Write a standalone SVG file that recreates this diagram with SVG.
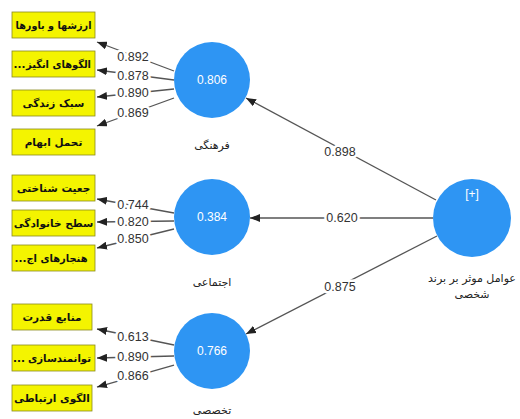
<svg xmlns="http://www.w3.org/2000/svg" width="520" height="419" viewBox="0 0 520 419">
<style>
.box{fill:#F4F400;stroke:#8a8a20;stroke-width:0.8}
.bt{font-family:"DejaVu Sans","Noto Sans",sans-serif;font-weight:bold;font-size:10.5px;fill:#111;text-anchor:middle}
.lv{fill:#2E95F3}
.ct{font-family:"Liberation Sans","Open Sans",sans-serif;font-size:12px;fill:#fff;text-anchor:middle}
.lb{font-family:"DejaVu Sans","Noto Sans",sans-serif;font-size:11px;fill:#222;text-anchor:middle}
.ln{stroke:#555;stroke-width:1.3;fill:none;marker-end:url(#ah)}
.num{font-family:"Liberation Sans","Open Sans",sans-serif;font-size:12.5px;fill:#333;text-anchor:middle;paint-order:stroke;stroke:#fff;stroke-width:5px;stroke-linejoin:round}
</style>
<defs>
<marker id="ah" markerUnits="userSpaceOnUse" markerWidth="10" markerHeight="8" refX="10" refY="4" orient="auto">
<path d="M0,0 L10,4 L0,8 z" fill="#222"/>
</marker>
</defs>
<rect width="520" height="419" fill="#fff"/>
<g id="connectors">
<line class="ln" x1="174" y1="71" x2="97" y2="42"/>
<line class="ln" x1="174" y1="80" x2="97" y2="70"/>
<line class="ln" x1="174" y1="89" x2="97" y2="97"/>
<line class="ln" x1="174" y1="98" x2="97" y2="126"/>
<line class="ln" x1="174" y1="213" x2="97" y2="199"/>
<line class="ln" x1="174" y1="221" x2="97" y2="222"/>
<line class="ln" x1="174" y1="229" x2="97" y2="248"/>
<line class="ln" x1="174" y1="345" x2="97" y2="329"/>
<line class="ln" x1="174" y1="356" x2="97" y2="358"/>
<line class="ln" x1="174" y1="365" x2="97" y2="387"/>
<line class="ln" x1="436" y1="200" x2="246" y2="98"/>
<line class="ln" x1="433" y1="218" x2="250" y2="218"/>
<line class="ln" x1="437" y1="236" x2="246" y2="334"/>
<text class="num" x="133" y="61">0.892</text>
<text class="num" x="133" y="80">0.878</text>
<text class="num" x="133" y="97">0.890</text>
<text class="num" x="133" y="117">0.869</text>
<text class="num" x="133" y="209">0.744</text>
<text class="num" x="133" y="226">0.820</text>
<text class="num" x="133" y="243">0.850</text>
<text class="num" x="133" y="341">0.613</text>
<text class="num" x="133" y="361">0.890</text>
<text class="num" x="133" y="380">0.866</text>
<text class="num" x="340" y="156">0.898</text>
<text class="num" x="342" y="222">0.620</text>
<text class="num" x="340" y="291">0.875</text>
</g>
<g id="ind1"><rect class="box" x="12" y="12" width="83" height="26"/><text class="bt" x="53.5" y="29" textLength="76" lengthAdjust="spacingAndGlyphs">ارزشها و باورها</text></g>
<g id="ind2"><rect class="box" x="12" y="51" width="83" height="26"/><text class="bt" x="19.5" y="68">...</text><text class="bt" x="58.5" y="68" textLength="65" lengthAdjust="spacingAndGlyphs">الگوهای انگیز</text></g>
<g id="ind3"><rect class="box" x="12" y="90" width="83" height="26"/><text class="bt" x="53.5" y="107">سبک زندگی</text></g>
<g id="ind4"><rect class="box" x="12" y="129" width="83" height="26"/><text class="bt" x="53.5" y="146">تحمل ابهام</text></g>
<g id="ind5"><rect class="box" x="12" y="175" width="83" height="26"/><text class="bt" x="53.5" y="192">جعیت شناختی</text></g>
<g id="ind6"><rect class="box" x="12" y="210" width="83" height="26"/><text class="bt" x="53.5" y="227">سطح خانوادگی</text></g>
<g id="ind7"><rect class="box" x="12" y="245" width="83" height="26"/><text class="bt" x="20.5" y="262">...</text><text class="bt" x="57" y="262" textLength="61" lengthAdjust="spacingAndGlyphs">هنجارهای اج</text></g>
<g id="ind8"><rect class="box" x="12" y="304" width="80" height="26"/><text class="bt" x="52" y="321">منابع قدرت</text></g>
<g id="ind9"><rect class="box" x="12" y="345" width="83" height="26"/><text class="bt" x="19" y="362">...</text><text class="bt" x="59.5" y="362" textLength="63" lengthAdjust="spacingAndGlyphs">توانمندسازی</text></g>
<g id="ind10"><rect class="box" x="12" y="385" width="80" height="26"/><text class="bt" x="52" y="402">الگوی ارتباطی</text></g>
<g id="farhangi"><circle class="lv" cx="212" cy="80" r="38"/><text class="ct" x="212" y="84">0.806</text><text class="lb" x="212" y="149">فرهنگی</text></g>
<g id="ejtemaei"><circle class="lv" cx="212" cy="217" r="38"/><text class="ct" x="212" y="221">0.384</text><text class="lb" x="212" y="286">اجتماعی</text></g>
<g id="takhasosi"><circle class="lv" cx="212" cy="351" r="38"/><text class="ct" x="212" y="355">0.766</text><text class="lb" x="212" y="414">تخصصی</text></g>
<g id="brand"><circle class="lv" cx="472" cy="218" r="39"/><text class="ct" x="472" y="198" font-size="11">[+]</text><text class="lb" x="472" y="282">عوامل موثر بر برند</text><text class="lb" x="472" y="298">شخصی</text></g>
</svg>
